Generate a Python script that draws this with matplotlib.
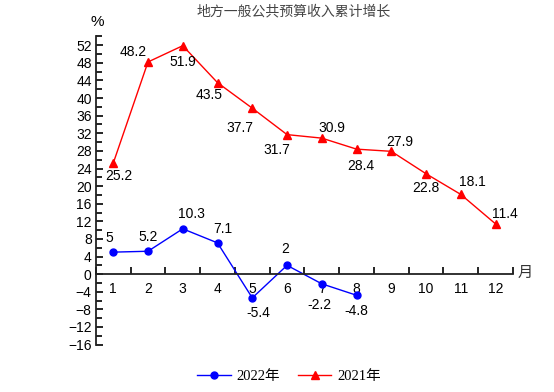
import matplotlib
matplotlib.use("Agg")
import matplotlib.pyplot as plt
from matplotlib.ticker import MultipleLocator

plt.rcParams['font.family'] = ['Liberation Sans', 'Noto Sans CJK SC']

# data
months = list(range(1, 13))
y2021 = [25.2, 48.2, 51.9, 43.5, 37.7, 31.7, 30.9, 28.4, 27.9, 22.8, 18.1, 11.4]
months_2022 = list(range(1, 9))
y2022 = [5, 5.2, 10.3, 7.1, -5.4, 2, -2.2, -4.8]

# label offsets in points (dx, dy)
off2021 = [(4, -9), (-11, 7), (0, -12), (-6, -9), (-9, -14), (-7, -11),
           (7, 7), (3, -12), (6, 7), (0, -10), (8, 9), (7, 7)]
off2022 = [(-3, 10), (0, 10), (6, 11), (4, 10), (4, -11), (-1, 12), (-2, -15), (0, -11)]

fig = plt.figure(figsize=(5.54, 3.92), dpi=100)
ax = fig.add_axes([0.173, 0.121, 0.753, 0.786])

red = '#ff0000'
blue = '#0000ff'
ax.plot(months_2022, y2022, color=blue, lw=1, marker='o', ms=5, label='2022年')
ax.plot(months, y2021, color=red, lw=1, marker='^', ms=6, label='2021年')

for m, v, (dx, dy) in zip(months, y2021, off2021):
    ax.annotate(f'{v:g}', (m, v), xytext=(dx, dy), textcoords='offset points',
                ha='center', va='center', fontsize=10)
for m, v, (dx, dy) in zip(months_2022, y2022, off2022):
    ax.annotate(f'{v:g}', (m, v), xytext=(dx, dy), textcoords='offset points',
                ha='center', va='center', fontsize=10)

ax.set_xlim(0.5, 12.5)
ax.set_ylim(-16, 54)
ax.spines['top'].set_visible(False)
ax.spines['right'].set_visible(False)
ax.spines['bottom'].set_position(('data', 0))
for s in ['left', 'bottom']:
    ax.spines[s].set_linewidth(1.3)
    ax.spines[s].set_color('#222222')

ax.set_xticks(months)
ax.set_xticklabels([str(m) for m in months])
ax.xaxis.set_minor_locator(MultipleLocator(1, offset=0.5))
ax.tick_params(axis='x', which='major', length=0, pad=6, labelsize=10)
ax.tick_params(axis='x', which='minor', direction='in', length=5, width=1.2)

ax.set_yticks(range(-16, 53, 4))
ax.yaxis.set_minor_locator(MultipleLocator(2))
ax.tick_params(axis='y', which='major', direction='in', length=5, width=1.2, labelsize=10, pad=3)
ax.tick_params(axis='y', which='minor', direction='in', length=4, width=1.2)

fig.text(0.175, 0.945, '%', ha='center', va='center', fontsize=11)
fig.text(0.948, 0.305, '月', ha='center', va='center', fontsize=11, color='#333333')
fig.text(0.53, 0.97, '地方一般公共预算收入累计增长', ha='center', va='center',
         fontsize=10, color='#444444')

leg = fig.legend(loc='center', bbox_to_anchor=(0.522, 0.04), ncol=2, frameon=False,
                 handlelength=2.3, handletextpad=0.4, columnspacing=1.2,
                 prop={'family': ['Liberation Serif', 'Noto Sans CJK SC'], 'size': 10.5})

fig.savefig('out.png', dpi=100)
